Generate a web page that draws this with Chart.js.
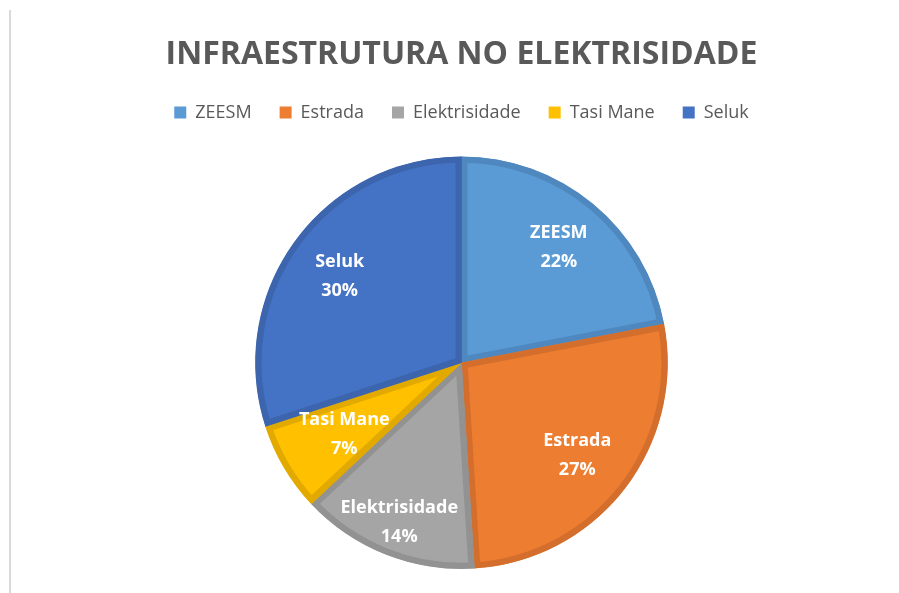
<!DOCTYPE html>
<html>
<head>
<meta charset="utf-8">
<script src="https://cdn.jsdelivr.net/npm/chart.js@4.4.1/dist/chart.umd.min.js"></script>
<style>
  html, body { margin: 0; padding: 0; background: #ffffff; }
  #wrap { position: relative; width: 899px; height: 593px; }
  #edge { position: absolute; left: 9px; top: 10px; width: 2px; height: 583px; background: #d9d9d9; }
  canvas { position: absolute; left: 0; top: 0; }
</style>
</head>
<body>
<div id="wrap">
  <div id="edge"></div>
  <canvas id="c" width="899" height="593"></canvas>
</div>
<script>
const categories = ['ZEESM', 'Estrada', 'Elektrisidade', 'Tasi Mane', 'Seluk'];
const values = [22, 27, 14, 7, 30];
const fillColors = ['#5B9BD5', '#ED7D31', '#A5A5A5', '#FFC000', '#4472C4'];
const borderColors = ['#4E88BE', '#D36E2C', '#929292', '#E2AA00', '#3C65AE'];
const labelRadius = [0.74, 0.71, 0.82, 0.66, 0.73];

const labelPlugin = {
  id: 'sliceLabels',
  afterDatasetsDraw(chart) {
    const ctx = chart.ctx;
    const meta = chart.getDatasetMeta(0);
    const data = chart.data.datasets[0].data;
    const total = data.reduce((a, b) => a + b, 0);
    ctx.save();
    ctx.fillStyle = '#ffffff';
    ctx.textAlign = 'center';
    ctx.textBaseline = 'middle';
    ctx.font = 'bold 18px "Open Sans", sans-serif';
    meta.data.forEach((arc, i) => {
      const p = arc.getProps(['x', 'y', 'startAngle', 'endAngle', 'outerRadius'], true);
      const mid = (p.startAngle + p.endAngle) / 2;
      const r = p.outerRadius * labelRadius[i];
      const x = p.x + Math.cos(mid) * r;
      const y = p.y + Math.sin(mid) * r;
      const pct = Math.round(data[i] / total * 100) + '%';
      ctx.fillText(chart.data.labels[i], x, y - 12);
      ctx.fillText(pct, x, y + 17);
    });
    ctx.restore();
  }
};

const legendGap = {
  id: 'legendGap',
  beforeInit(chart) {
    const legend = chart.legend;
    const origFit = legend.fit;
    legend.fit = function () {
      origFit.call(this);
      this.height += 25;
    };
  }
};

new Chart(document.getElementById('c'), {
  type: 'pie',
  data: {
    labels: categories,
    datasets: [{
      data: values,
      backgroundColor: fillColors,
      borderColor: borderColors,
      borderWidth: 6,
      borderAlign: 'inner'
    }]
  },
  options: {
    responsive: false,
    animation: false,
    layout: { padding: { left: 24, right: 0, top: 0, bottom: 24 } },
    plugins: {
      title: {
        display: true,
        text: 'INFRAESTRUTURA NO ELEKTRISIDADE',
        color: '#595959',
        font: { family: '"Open Sans", sans-serif', size: 32, weight: 'bold' },
        padding: { top: 36, bottom: 1 }
      },
      legend: {
        position: 'top',
        labels: {
          color: '#595959',
          font: { family: '"Open Sans", sans-serif', size: 18 },
          boxWidth: 12,
          boxHeight: 12,
          padding: 28,
          generateLabels(chart) {
            return categories.map((name, i) => ({
              text: name,
              fillStyle: fillColors[i],
              strokeStyle: fillColors[i],
              lineWidth: 0,
              fontColor: '#595959',
              hidden: false,
              index: i
            }));
          }
        }
      },
      tooltip: { enabled: false }
    }
  },
  plugins: [labelPlugin, legendGap]
});
</script>
</body>
</html>
